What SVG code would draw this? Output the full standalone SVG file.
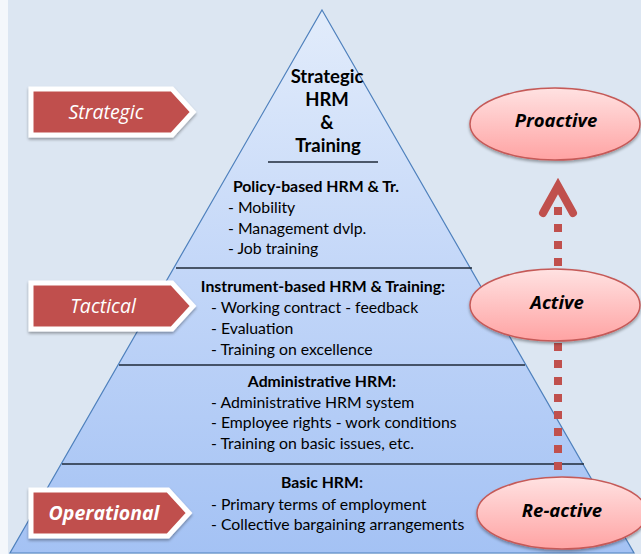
<svg xmlns="http://www.w3.org/2000/svg" width="641" height="554" viewBox="0 0 641 554">
<defs>
<linearGradient id="pyr" x1="0" y1="0" x2="0" y2="1">
<stop offset="0" stop-color="#e2ecfb"/>
<stop offset="0.5" stop-color="#c2d6f8"/>
<stop offset="1" stop-color="#a4c2f4"/>
</linearGradient>
<linearGradient id="ell" x1="0" y1="0" x2="0" y2="1">
<stop offset="0" stop-color="#ffe2e2"/>
<stop offset="1" stop-color="#ffa3a3"/>
</linearGradient>
<filter id="sh" x="-20%" y="-20%" width="140%" height="150%">
<feGaussianBlur in="SourceAlpha" stdDeviation="1.5"/>
<feOffset dx="0" dy="2" result="b"/>
<feComponentTransfer><feFuncA type="linear" slope="0.35"/></feComponentTransfer>
<feMerge><feMergeNode/><feMergeNode in="SourceGraphic"/></feMerge>
</filter>
</defs>
<style>
.t{font-family:Lato,"Liberation Sans",sans-serif;font-size:15.8px;fill:#000}
.b{font-weight:bold;text-anchor:middle}
.h{font-family:Lato,"Liberation Sans",sans-serif;font-size:18.5px;font-weight:bold;fill:#000;text-anchor:middle}
.lab{font-family:"Open Sans","Liberation Sans",sans-serif;font-size:19.5px;font-style:italic;fill:#fff;text-anchor:middle}
.el{font-family:"Open Sans","Liberation Sans",sans-serif;font-size:18.5px;font-style:italic;font-weight:bold;fill:#000;text-anchor:middle}
.sep{stroke:#1f2a38;stroke-width:1.5}
.tag{fill:#c0504d;stroke:#fff;stroke-width:5;stroke-linejoin:miter}
.oval{fill:url(#ell);stroke:#c55a58;stroke-width:1.5}
</style>
<rect x="0" y="0" width="641" height="554" fill="#f4f7fb"/>
<rect x="8" y="0" width="633" height="554" fill="#dce6f2"/>
<g id="pyramid">
<polygon points="322,10 634,553 10,553" fill="url(#pyr)" stroke="#4f81bd" stroke-width="1.2"/>
<line class="sep" x1="268" y1="162" x2="378" y2="162"/>
<line class="sep" x1="176" y1="268" x2="472" y2="268"/>
<line class="sep" x1="119" y1="365" x2="525" y2="365"/>
<line class="sep" x1="62" y1="464" x2="584" y2="464"/>
</g>
<g id="level-strategic">
<text class="h" x="327" y="83">Strategic</text>
<text class="h" x="327" y="106">HRM</text>
<text class="h" x="327" y="129">&amp;</text>
<text class="h" x="328" y="152">Training</text>
</g>
<g id="level-policy">
<text class="t b" x="316" y="192">Policy-based HRM &amp; Tr.</text>
<text class="t" x="228" y="213">- Mobility</text>
<text class="t" x="228" y="234">- Management dvlp.</text>
<text class="t" x="228" y="254">- Job training</text>
</g>
<g id="level-instrument">
<text class="t b" x="323" y="292">Instrument-based HRM &amp; Training:</text>
<text class="t" x="211" y="313">- Working contract - feedback</text>
<text class="t" x="211" y="334">- Evaluation</text>
<text class="t" x="211" y="355">- Training on excellence</text>
</g>
<g id="level-administrative">
<text class="t b" x="322" y="387">Administrative HRM:</text>
<text class="t" x="211" y="408">- Administrative HRM system</text>
<text class="t" x="211" y="428">- Employee rights - work conditions</text>
<text class="t" x="211" y="449">- Training on basic issues, etc.</text>
</g>
<g id="level-basic">
<text class="t b" x="322" y="488">Basic HRM:</text>
<text class="t" x="211" y="510">- Primary terms of employment</text>
<text class="t" x="211" y="530">- Collective bargaining arrangements</text>
</g>
<g id="tag-strategic">
<polygon class="tag" filter="url(#sh)" points="31,89 172,89 193,112 172,135 31,135"/>
<text class="lab" x="106" y="119">Strategic</text>
</g>
<g id="tag-tactical">
<polygon class="tag" filter="url(#sh)" points="31,283 172,283 193,306 172,329 31,329"/>
<text class="lab" x="103" y="313">Tactical</text>
</g>
<g id="tag-operational">
<polygon class="tag" filter="url(#sh)" points="31,490 168,490 189,513 168,536 31,536"/>
<text class="lab" x="104" y="520" font-weight="bold">Operational</text>
</g>
<g id="connectors">
<line x1="558" y1="470" x2="558" y2="207" stroke="#c0504d" stroke-width="8" stroke-dasharray="8 9"/>
<polyline points="543,213 558,186 573,213" fill="none" stroke="#c0504d" stroke-width="8" stroke-linecap="round" stroke-linejoin="miter"/>
</g>
<g id="state-proactive">
<ellipse class="oval" filter="url(#sh)" cx="555" cy="124" rx="85" ry="36"/>
<text class="el" x="556" y="127">Proactive</text>
</g>
<g id="state-active">
<ellipse class="oval" filter="url(#sh)" cx="555" cy="305" rx="85" ry="36"/>
<text class="el" x="557" y="309">Active</text>
</g>
<g id="state-reactive">
<ellipse class="oval" filter="url(#sh)" cx="562" cy="513" rx="85" ry="36"/>
<text class="el" x="562" y="517">Re-active</text>
</g>
</svg>
